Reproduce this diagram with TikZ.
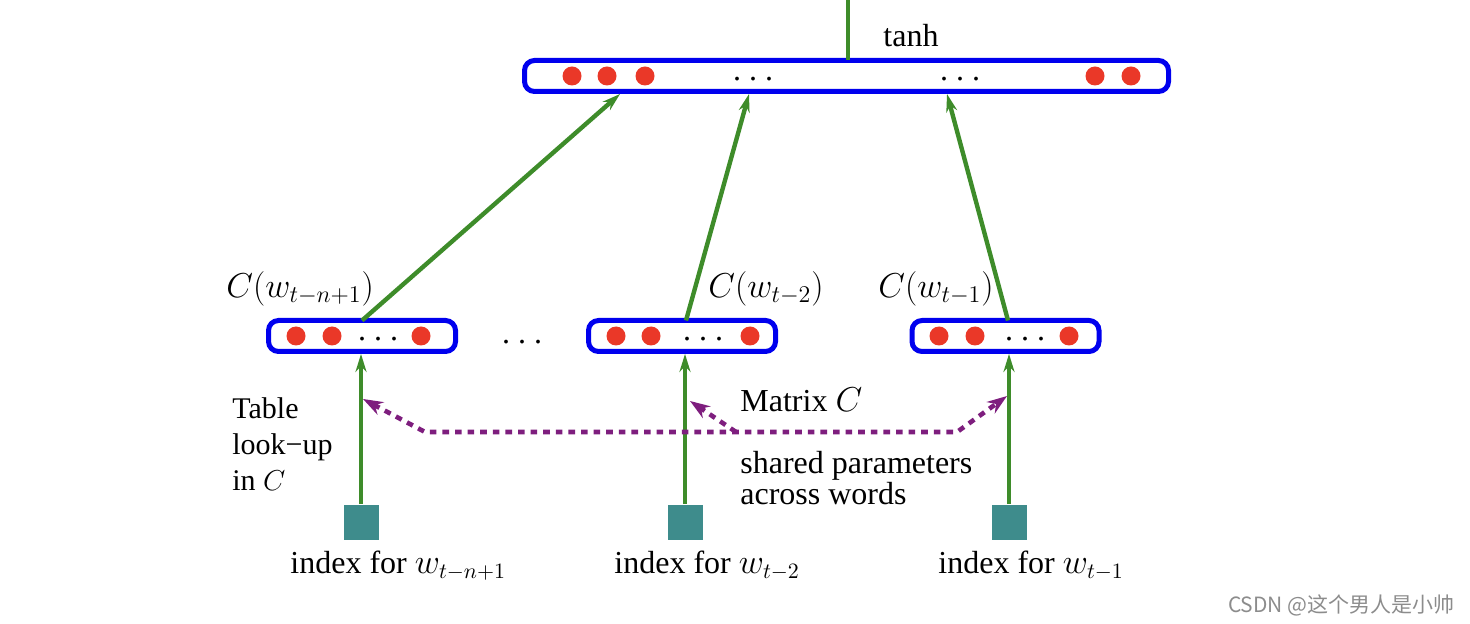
\documentclass[tikz,border=0pt]{standalone}
\usepackage{fontspec}
\setmainfont{Liberation Serif}
\newfontfamily\cjkfont{Noto Sans CJK SC}
\usepackage{tikz}
\usetikzlibrary{arrows.meta,positioning}

\definecolor{azulcapa}{RGB}{0,0,238}
\definecolor{rojounidad}{RGB}{234,56,40}
\definecolor{verdeflecha}{RGB}{62,140,42}
\definecolor{tealindice}{RGB}{62,140,140}
\definecolor{moradoC}{RGB}{126,30,126}
\newcommand{\tresp}{.\hspace{4pt}.\hspace{4pt}.}

\begin{document}
\begin{tikzpicture}[x=0.5pt, y=-0.5pt, >={Stealth[length=9pt,width=5.5pt]},
  capa/.style={draw=azulcapa, line width=2.5pt, rounded corners=5pt, inner sep=0pt, outer sep=0pt, minimum height=15.5pt},
  unidad/.style={circle, fill=rojounidad, inner sep=0pt, minimum size=9.5pt},
  puntos/.style={inner sep=0pt, font=\fontsize{16}{18}\selectfont},
  indice/.style={fill=tealindice, inner sep=0pt, minimum size=17.5pt},
  flecha/.style={->, draw=verdeflecha, line width=2.2pt},
  compartido/.style={moradoC, line width=2.3pt, dash pattern=on 3.3pt off 3pt, >={Stealth[length=10pt,width=7pt]}},
  texto/.style={inner sep=0pt, font=\fontsize{16}{15.5}\selectfont},
  etiqueta/.style={inner sep=0pt, font=\fontsize{17}{19}\selectfont}]
\useasboundingbox (0,0) rectangle (1470,624);

% Capa oculta (tanh)
\node[capa, minimum width=322pt] (oculta) at (846.5,76) {};
\foreach \x [count=\i] in {572,607,645,1095,1131}
  \node[unidad] (h\i) at (\x,76) {};
\node[puntos] (hp1) at (753,79) {\tresp};
\node[puntos] (hp2) at (960,79) {\tresp};
\node[texto, anchor=base west] (tanh) at (883,47) {tanh};
\coordinate (arriba) at (848,0);
\draw[draw=verdeflecha, line width=2.2pt] (arriba) -- (arriba |- oculta.north);

% Vectores C(w)
\node[capa, minimum width=93.5pt] (e1) at (362,336) {};
\node[capa, minimum width=93.5pt] (e2) at (682,336) {};
\node[capa, minimum width=93.5pt] (e3) at (1005.5,336) {};
\foreach \x [count=\i] in {296,332,421}
  \node[unidad] (a\i) at (\x,336) {};
\foreach \x [count=\i] in {616,651,750}
  \node[unidad] (b\i) at (\x,336) {};
\foreach \x [count=\i] in {939,975,1069}
  \node[unidad] (d\i) at (\x,336) {};
\node[puntos] (ep1) at (378,339) {\tresp};
\node[puntos] (ep2) at (703,339) {\tresp};
\node[puntos] (ep3) at (1025,339) {\tresp};
\node[puntos] (entre) at (522,342) {\tresp};

\node[etiqueta, anchor=west] (l1) at (226,289) {$C(w_{t-n+1})$};
\node[etiqueta, anchor=west] (l2) at (708,289) {$C(w_{t-2})$};
\node[etiqueta, anchor=west] (l3) at (878,289) {$C(w_{t-1})$};

% Entradas a la capa oculta
\coordinate (in1) at (620,94);
\coordinate (in2) at (749,94);
\coordinate (in3) at (947,94);
\draw[flecha] (e1.north) -- (in1);
\draw[flecha] ([xshift=2pt]e2.north) -- (in2);
\draw[flecha] ([xshift=1.25pt]e3.north) -- (in3);

% Indices de palabras
\node[indice] (c1) at (361,522) {};
\node[indice] (c2) at (685,522) {};
\node[indice] (c3) at (1009,522) {};
\draw[flecha, shorten >=1.2pt] (c1.north) -- (c1.north |- e1.south);
\draw[flecha, shorten >=1.2pt] (c2.north) -- (c2.north |- e2.south);
\draw[flecha, shorten >=1.2pt] (c3.north) -- (c3.north |- e3.south);

\node[texto, anchor=base west] (i1) at (290,573) {index for $w_{t-n+1}$};
\node[texto, anchor=base west] (i2) at (614,573) {index for $w_{t-2}$};
\node[texto, anchor=base west] (i3) at (938,573) {index for $w_{t-1}$};

% Matriz C compartida
\coordinate (k1) at (425,432);
\coordinate (k2) at (736,432);
\coordinate (k3) at (957,432);
\coordinate (t1) at (363,399);
\coordinate (t2) at (690,401);
\coordinate (t3) at (1007,396);
\draw[compartido, <->] (t1) -- (k1) -- (k3) -- (t3);
\draw[compartido, ->] (k2) -- (t2);

\node[texto, anchor=base west] (matriz) at (740,412) {Matrix $C$};
\node[texto, anchor=west, align=left] (param) at (740,478) {shared parameters\\across words};
\node[inner sep=0pt, anchor=west, align=left, font=\fontsize{15}{18}\selectfont] (tabla) at (232,444) {Table\\look\char"2212 up\\in $C$};

\node[inner sep=0pt, anchor=east, text=black!45, font=\cjkfont\fontsize{10.5}{12}\selectfont] (marca) at (1455,605) {CSDN @这个男人是小帅};
\end{tikzpicture}
\end{document}
